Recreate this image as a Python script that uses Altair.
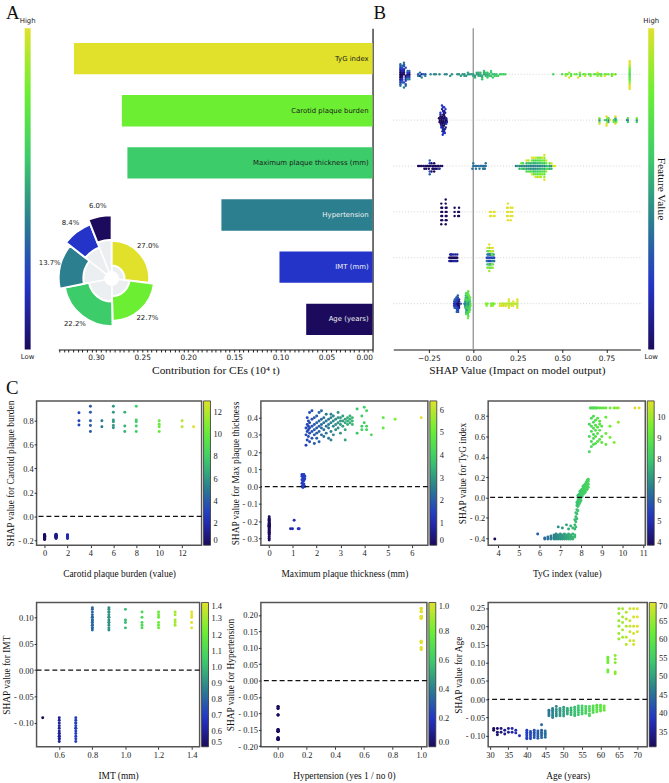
import altair as alt
import pandas as pd

# ---------------- feature summary (panel A) ----------------
features = ["TyG index", "Carotid plaque burden", "Maximum plaque thickness (mm)",
            "Hypertension", "IMT (mm)", "Age (years)"]
contribution = [0.324, 0.272, 0.266, 0.164, 0.101, 0.072]
share_pct = [27.0, 22.7, 22.2, 13.7, 8.4, 6.0]
shap_ticks = [-0.25, 0.0, 0.25, 0.50, 0.75]

# ---------------- per-sample SHAP values, keyed by feature value ----------------
tyg_shap = {
    3.84: [-0.41], 5.91: [-0.36],
    6.25: [-0.40, -0.41], 6.4: [-0.39, -0.41], 6.55: [-0.38, -0.40, -0.41],
    6.7: [-0.37, -0.39, -0.40, -0.41], 6.8: [-0.36, -0.38, -0.40, -0.41],
    6.9: [-0.29, -0.37, -0.39, -0.40, -0.41], 7.0: [-0.36, -0.38, -0.39, -0.40, -0.41],
    7.1: [-0.30, -0.37, -0.38, -0.40, -0.41], 7.2: [-0.36, -0.38, -0.39, -0.40, -0.41],
    7.3: [-0.27, -0.37, -0.39, -0.40, -0.41], 7.4: [-0.31, -0.36, -0.38, -0.39, -0.41],
    7.5: [-0.28, -0.37, -0.38, -0.40, -0.41], 7.6: [-0.30, -0.36, -0.39, -0.40, -0.41],
    7.7: [-0.22, -0.27, -0.31, -0.37, -0.39], 7.75: [-0.29, -0.24, -0.19, -0.15],
    7.8: [-0.21, -0.16, -0.12, -0.08, -0.05], 7.85: [-0.13, -0.09, -0.06, -0.03, 0.0, 0.02],
    7.9: [-0.07, -0.04, -0.02, 0.01, 0.03], 7.95: [-0.05, -0.01, 0.02, 0.04, 0.06],
    8.0: [-0.03, 0.0, 0.03, 0.05, 0.07], 8.05: [0.01, 0.04, 0.06, 0.08],
    8.1: [0.03, 0.05, 0.07, 0.09, 0.11], 8.15: [0.04, 0.06, 0.08, 0.10, 0.12],
    8.2: [0.05, 0.08, 0.10, 0.13], 8.25: [0.07, 0.09, 0.12, 0.15],
    8.3: [0.08, 0.11, 0.14, 0.17], 8.35: [0.10, 0.13, 0.16, 0.18],
    8.4: [0.45, 0.60, 0.72], 8.45: [0.88], 8.5: [0.50, 0.55, 0.65, 0.70, 0.78, 0.88],
    8.55: [0.88], 8.6: [0.52, 0.58, 0.62, 0.68, 0.74, 0.80, 0.88], 8.65: [0.88],
    8.7: [0.53, 0.60, 0.66, 0.71, 0.76, 0.88], 8.75: [0.88],
    8.8: [0.55, 0.63, 0.69, 0.78, 0.88], 8.9: [0.57, 0.66, 0.72, 0.75, 0.88],
    9.0: [0.54, 0.60, 0.70, 0.88], 9.1: [0.88], 9.2: [0.52, 0.63, 0.79, 0.88],
    9.4: [0.59, 0.70, 0.88], 9.6: [0.54, 0.88], 9.7: [0.88], 9.8: [0.74, 0.88],
    10.6: [0.88], 10.8: [0.88],
}
carotid_shap = {
    0: [-0.150, -0.155, -0.158, -0.160, -0.160, -0.162, -0.165, -0.165, -0.167, -0.170,
        -0.170, -0.172, -0.175, -0.175, -0.178, -0.180, -0.180, -0.183, -0.185, -0.188,
        -0.190, -0.193, -0.168, -0.172],
    1: [-0.148, -0.152, -0.155, -0.158, -0.160, -0.163, -0.165, -0.166, -0.170, -0.170,
        -0.173, -0.176, -0.180, -0.184],
    2: [-0.152, -0.156, -0.160, -0.164, -0.168, -0.170, -0.172, -0.176, -0.180, -0.185],
    3: [0.764, 0.80, 0.866], 4: [0.71, 0.76, 0.80, 0.87, 0.92], 5: [0.75, 0.80],
    6: [0.74, 0.76, 0.79, 0.805, 0.87, 0.92], 7: [0.71, 0.755, 0.87],
    8: [0.71, 0.755, 0.79, 0.805, 0.92], 10: [0.71, 0.75, 0.77, 0.80],
    12: [0.75, 0.80], 13: [0.75],
}
plaque_shap = {
    0.0: [-0.175, -0.185, -0.19, -0.195, -0.20, -0.205, -0.21, -0.215, -0.215, -0.22,
          -0.22, -0.225, -0.225, -0.23, -0.23, -0.235, -0.235, -0.24, -0.245, -0.25,
          -0.255, -0.26, -0.265, -0.27, -0.275, -0.28, -0.29, -0.30, -0.31],
    0.9: [-0.245], 0.98: [-0.245], 1.05: [-0.195], 1.22: [-0.245], 1.26: [-0.245],
    1.38: [0.0, 0.02, 0.04, 0.06, 0.07], 1.42: [-0.005, 0.01, 0.03, 0.05, 0.065],
    1.46: [0.015, 0.035, 0.055, 0.07], 1.5: [0.0, 0.045, 0.06],
    1.55: [0.24, 0.30, 0.34], 1.6: [0.27, 0.32, 0.36, 0.40], 1.65: [0.29, 0.33, 0.35, 0.38],
    1.7: [0.26, 0.31, 0.34, 0.37, 0.43], 1.8: [0.28, 0.32, 0.35, 0.39, 0.44],
    1.9: [0.25, 0.30, 0.33, 0.36, 0.40], 2.0: [0.28, 0.31, 0.34, 0.37, 0.41],
    2.1: [0.26, 0.32, 0.35, 0.38, 0.43], 2.2: [0.30, 0.34, 0.36, 0.39, 0.44],
    2.3: [0.29, 0.33, 0.37, 0.40], 2.4: [0.31, 0.35, 0.38, 0.42],
    2.5: [0.28, 0.34, 0.36, 0.39], 2.6: [0.27, 0.32, 0.37, 0.40, 0.42],
    2.7: [0.30, 0.35, 0.38, 0.41], 2.8: [0.33, 0.36, 0.39], 2.9: [0.34, 0.37, 0.40, 0.43],
    3.0: [0.31, 0.36, 0.38, 0.40], 3.1: [0.35, 0.38, 0.41], 3.2: [0.27, 0.33, 0.37, 0.39],
    3.3: [0.36, 0.38, 0.40], 3.4: [0.37, 0.39, 0.41], 3.5: [0.36, 0.38, 0.40],
    3.7: [0.31, 0.45], 3.9: [0.33, 0.35, 0.41], 4.0: [0.37, 0.46], 4.1: [0.33, 0.35, 0.44],
    4.3: [0.30], 4.8: [0.34, 0.40], 5.3: [0.39], 6.4: [0.40],
}
hypertension_shap = {
    0: [-0.08, -0.08, -0.08, -0.085, -0.085, -0.105, -0.105, -0.105,
        -0.15, -0.15, -0.15, -0.15, -0.155, -0.155, -0.155, -0.155, -0.155, -0.155, -0.155,
        -0.175, -0.175, -0.175, -0.175, -0.18, -0.18, -0.18, -0.18, -0.18, -0.18],
    1: [0.095, 0.095, 0.10, 0.10, 0.115, 0.115, 0.12, 0.12,
        0.19, 0.19, 0.19, 0.195, 0.195, 0.195, 0.195, 0.195,
        0.21, 0.21, 0.21, 0.21, 0.22, 0.22, 0.22],
}
imt_shap = {
    0.5: [-0.09],
    0.6: [-0.09, -0.095, -0.10, -0.105, -0.11, -0.115, -0.12, -0.12, -0.125, -0.125,
          -0.13, -0.13, -0.135],
    0.7: [-0.09, -0.095, -0.10, -0.10, -0.105, -0.11, -0.11, -0.115, -0.12, -0.125,
          -0.13, -0.135],
    0.8: [0.076, 0.08, 0.08, 0.085, 0.085, 0.09, 0.09, 0.095, 0.095, 0.10, 0.10, 0.105,
          0.11, 0.115, 0.118],
    0.9: [0.076, 0.08, 0.085, 0.09, 0.09, 0.095, 0.10, 0.10, 0.105, 0.11, 0.11, 0.115, 0.118],
    1.0: [0.08, 0.09, 0.095, 0.115], 1.1: [0.08, 0.085, 0.09, 0.10, 0.11],
    1.2: [0.08, 0.085, 0.09, 0.10, 0.105, 0.11], 1.3: [0.085, 0.09, 0.095, 0.105, 0.11],
    1.4: [0.08, 0.09, 0.10, 0.105, 0.11],
}
age_shap = {
    31: [-0.08, -0.085], 32: [-0.08, -0.09, -0.097], 33: [-0.08, -0.09],
    34: [-0.085, -0.095], 35: [-0.08, -0.09], 36: [-0.08, -0.09], 37: [-0.085, -0.092],
    38: [-0.10],
    40: [-0.085, -0.09, -0.095, -0.10, -0.105, -0.108],
    41: [-0.088, -0.093, -0.098, -0.103, -0.108], 42: [-0.085, -0.09, -0.095, -0.10, -0.105],
    43: [-0.087, -0.092, -0.097, -0.102, -0.107],
    44: [-0.07, -0.085, -0.09, -0.095, -0.10, -0.105], 45: [-0.087, -0.093, -0.098, -0.104],
    46: [-0.03, -0.035, -0.04, -0.045], 47: [-0.025, -0.03, -0.035, -0.04, -0.045, -0.05],
    48: [-0.02, -0.028, -0.034, -0.04, -0.046], 49: [-0.025, -0.03, -0.035, -0.04, -0.045],
    50: [-0.022, -0.028, -0.034, -0.04, -0.046], 51: [-0.025, -0.03, -0.035, -0.04],
    52: [-0.024, -0.03, -0.036, -0.042], 53: [-0.022, -0.028, -0.034, -0.04, -0.045],
    54: [-0.018, -0.024, -0.03, -0.036, -0.042], 55: [-0.018, -0.024, -0.03, -0.036, -0.04],
    56: [-0.02, -0.026, -0.032, -0.038], 57: [-0.02, -0.026, -0.032, -0.04, -0.045],
    58: [-0.018, -0.024, -0.03, -0.036], 59: [-0.016, -0.022, -0.028, -0.034],
    60: [-0.016, -0.022, -0.028, -0.032], 61: [-0.018, -0.024, -0.03],
    62: [0.075, 0.08, 0.10, 0.105, 0.11, 0.115], 64: [0.07, 0.075, 0.10, 0.11, 0.12],
    65: [0.165, 0.18, 0.20, 0.215, 0.235, 0.248], 66: [0.17, 0.19, 0.21, 0.225, 0.248],
    67: [0.15, 0.17, 0.20, 0.22, 0.238], 68: [0.16, 0.185, 0.20, 0.215, 0.248],
    69: [0.15, 0.16, 0.18, 0.20, 0.225, 0.248], 70: [0.185, 0.20, 0.225, 0.248],
}

# ---------------- styling ----------------
CMAP = ["#1c0b5c", "#2434c8", "#2b7f8f", "#3dcc6a", "#6cef33", "#e1e12b"]
SERIF = "Liberation Serif"
SANS = "DejaVu Sans"
GRADIENT = alt.Gradient(
    gradient="linear", x1=0, x2=0, y1=1, y2=0,
    stops=[alt.GradientStop(offset=i / (len(CMAP) - 1), color=c) for i, c in enumerate(CMAP)],
)
LETTER = dict(font=SERIF, fontSize=19, color="#111", align="left", baseline="alphabetic")
UNIT = alt.Scale(domain=[0, 1])


def cmap_scale(domain=None):
    if domain is None:
        return alt.Scale(range=CMAP, interpolate="rgb", zero=False, nice=False)
    return alt.Scale(domain=domain, range=CMAP, interpolate="rgb", zero=False, nice=False)


# ---------------- tables ----------------
summary = pd.DataFrame({"feature": features, "contribution": contribution, "pct": share_pct})
summary["rank"] = summary["contribution"].rank(ascending=False) - 1

by_feature = dict(zip(features, [tyg_shap, carotid_shap, plaque_shap,
                                  hypertension_shap, imt_shap, age_shap]))
records = []
for row_no, feat in enumerate(features, start=1):
    for val, shaps in by_feature[feat].items():
        for s in shaps:
            records.append({"feature": feat, "row": row_no, "value": val, "shap": s})
points = pd.DataFrame(records)
rows_df = pd.DataFrame({"feature": features, "row": list(range(1, len(features) + 1))})
one = pd.DataFrame({"k": [0]})

feat_color = alt.Color("feature:N", scale=alt.Scale(domain=features, range=CMAP[::-1]), legend=None)

# ---------------- panel A: contribution bars + share rose ----------------
minor_ticks = [round(i * 0.005, 3) for i in range(0, 69)]
a_scale = alt.Scale(domain=[0, 0.341], reverse=True, nice=False, zero=False)
a_axis = alt.Axis(
    values=minor_ticks, labelOverlap=False,
    labelExpr="abs(datum.value * 20 - round(datum.value * 20)) < 0.001 ? format(datum.value, '.2f') : ''",
    title="Contribution for CEs (10\u2074 t)", titleFont=SERIF, titleFontSize=11.5,
    titleFontWeight="normal", titleColor="#111", titlePadding=3,
    labelFont=SANS, labelFontSize=7.5, labelColor="#222", labelPadding=2,
    tickSize=2.5, tickColor="#222", domainColor="#111", grid=False,
)
a_y = alt.Y(
    "feature:N", sort=features,
    scale=alt.Scale(paddingInner=0.4, paddingOuter=0.28),
    axis=alt.Axis(orient="right", labels=False, ticks=False, title=None,
                  domainColor="#111", domainWidth=1.2),
)
a_base = alt.Chart(summary)
a_bars = a_base.mark_bar().encode(
    x=alt.X("contribution:Q", scale=a_scale, axis=a_axis), y=a_y, color=feat_color)
a_text = a_base.mark_text(align="right", dx=-4, font=SANS, fontSize=7).encode(
    x=alt.X(datum=0, scale=a_scale, axis=a_axis),
    y=a_y,
    text="feature:N",
    color=alt.condition("datum.contribution > 0.2", alt.value("#1a1a1a"), alt.value("#f2f2f2")),
)

# rose of each feature's share, stacked clockwise from 12 o'clock
rose = (
    a_base
    .transform_window(t1="sum(pct)", sort=[alt.SortField("rank")], frame=[None, 0])
    .transform_calculate(
        t0="datum.t1 - datum.pct", tm="datum.t1 - datum.pct / 2",
        r_hole="-1.2", r_in="datum.rank", r_out="datum.rank + 4.8", r_lab="datum.rank + 6.9",
        label="format(datum.pct, '.1f') + '%'",
    )
)
r_scale = alt.Scale(type="linear", domain=[0, 5], range=[13, 39], zero=False)
t_scale = alt.Scale(type="linear", domain=[0, 100], range=[0, 6.283185], zero=False)
center = dict(x=alt.value(54), y=alt.value(253))
rose_inner = rose.mark_arc(color="#eceff1", stroke="white", strokeWidth=1.5).encode(
    theta=alt.Theta("t0:Q", scale=t_scale), theta2=alt.Theta2("t1:Q"),
    radius=alt.Radius("r_hole:Q", scale=r_scale), radius2=alt.Radius2("r_in:Q"), **center)
rose_ring = rose.mark_arc(stroke="white", strokeWidth=2).encode(
    theta=alt.Theta("t0:Q", scale=t_scale), theta2=alt.Theta2("t1:Q"), color=feat_color,
    radius=alt.Radius("r_in:Q", scale=r_scale), radius2=alt.Radius2("r_out:Q"), **center)
rose_text = rose.mark_text(font=SANS, fontSize=7, color="#222").encode(
    theta=alt.Theta("tm:Q", scale=t_scale),
    radius=alt.Radius("r_lab:Q", scale=r_scale), text="label:N", **center)

panel_a = alt.layer(a_bars, a_text, rose_inner, rose_ring, rose_text).properties(width=318, height=325)


def colorbar(height, side_title=None, letter=None):
    base = alt.Chart(one)
    bar = base.mark_rect(fill=GRADIENT).encode(
        x=alt.X(datum=0, scale=UNIT, axis=None), x2=alt.X2(datum=1),
        y=alt.Y(datum=0, scale=UNIT, axis=None), y2=alt.Y2(datum=1))
    hi = base.mark_text(text="High", baseline="bottom", dy=-4, font=SANS, fontSize=7, color="#222").encode(
        x=alt.X(datum=0.5), y=alt.Y(datum=1))
    lo = base.mark_text(text="Low", baseline="top", dy=4, font=SANS, fontSize=7, color="#222").encode(
        x=alt.X(datum=0.5), y=alt.Y(datum=0))
    layers = [bar, hi, lo]
    if side_title:
        layers.append(base.mark_text(text=side_title, angle=90, baseline="middle", align="center",
                                     font=SERIF, fontSize=11.5, color="#111").encode(
            x=alt.X(datum=2.2), y=alt.Y(datum=0.5)))
    if letter:
        layers.append(base.mark_text(text=letter, dx=-19, dy=-9, **LETTER).encode(
            x=alt.X(datum=0), y=alt.Y(datum=1)))
    return alt.layer(*layers).properties(width=6, height=height)


# ---------------- panel B: SHAP beeswarm ----------------
b_domain = [-0.45, 0.94]
b_xscale = alt.Scale(domain=b_domain, nice=False, zero=False)
b_axis = alt.Axis(values=shap_ticks, format=".2f", title="SHAP Value (Impact on model output)",
                  titleFont=SERIF, titleFontSize=11.5, titleFontWeight="normal", titleColor="#111",
                  titlePadding=3, labelFont=SANS, labelFontSize=7.5, labelColor="#222",
                  labelPadding=2, tickSize=3, tickColor="#222", domainColor="#111", grid=False)
b_yscale = alt.Scale(domain=[0, 7], reverse=True, nice=False, zero=False)
b_rows = alt.Chart(rows_df).mark_rule(strokeDash=[1, 2], color="#c8c8c8", strokeWidth=0.8).encode(
    y=alt.Y("row:Q", scale=b_yscale, axis=None))
b_zero = alt.Chart(one).mark_rule(color="#9a9a9a", strokeWidth=1.4).encode(
    x=alt.X(datum=0, scale=b_xscale, axis=b_axis))
b_letter = alt.Chart(one).mark_text(text="B", dx=-20, dy=-9, **LETTER).encode(
    x=alt.X(datum=b_domain[0], scale=b_xscale, axis=b_axis), y=alt.Y(datum=0, scale=b_yscale, axis=None))
b_swarm = (
    alt.Chart(points)
    .transform_joinaggregate(smin="min(shap)", smax="max(shap)", groupby=["feature"])
    .transform_calculate(qbin="round(100 * (datum.shap - datum.smin) / (datum.smax - datum.smin))")
    .transform_window(rn="row_number()", groupby=["feature", "qbin"], sort=[alt.SortField("value")])
    .transform_calculate(off="ceil((datum.rn - 1) / 2) * (((datum.rn - 1) % 2) * 2 - 1)")
    .transform_joinaggregate(maxoff="max(off)", groupby=["feature"])
    .transform_window(cd="cume_dist()", pr="percent_rank()", groupby=["feature"],
                      sort=[alt.SortField("value")])
    .transform_calculate(lo="datum.cd >= 0.05 ? datum.value : null",
                         hi="datum.pr <= 0.95 ? datum.value : null")
    .transform_joinaggregate(vlo="min(lo)", vhi="max(hi)", groupby=["feature"])
    .transform_calculate(
        norm="datum.vhi > datum.vlo ? clamp((datum.value - datum.vlo) / (datum.vhi - datum.vlo), 0, 1) : 0.5",
        ypos="datum.row + datum.off * 0.36 / (datum.maxoff + 1)")
    .mark_circle(size=6, opacity=1)
    .encode(x=alt.X("shap:Q", scale=b_xscale, axis=b_axis),
            y=alt.Y("ypos:Q", scale=b_yscale, axis=None),
            color=alt.Color("norm:Q", scale=cmap_scale([0, 1]), legend=None))
)
panel_b = alt.layer(b_rows, b_zero, b_swarm, b_letter).properties(width=250, height=325)


# ---------------- panel C: dependence scatter plots ----------------
def signed(fmt):
    return (f"datum.value < 0 ? '- ' + format(-datum.value, '{fmt}') : "
            f"format(datum.value, '{fmt}')")


def dependence(feat, xtitle, ytitle, xdom, xticks, xfmt, ydom, yticks, yfmt, cticks, cfmt,
               width, height):
    base = alt.Chart(points).transform_filter(alt.datum.feature == feat)
    axis_style = dict(labelFont=SERIF, labelFontSize=8.5, labelColor="#222", titleFont=SERIF,
                      titleFontSize=9.5, titleFontWeight="normal", titleColor="#111",
                      tickSize=2.5, tickColor="#333", domain=False, grid=False, labelPadding=1,
                      labelOverlap=False)
    xscale = alt.Scale(domain=xdom, nice=False, zero=False)
    yscale = alt.Scale(domain=ydom, nice=False, zero=False)
    x_axis = alt.Axis(values=xticks, format=xfmt, title=xtitle, titlePadding=12, **axis_style)
    y_axis = alt.Axis(values=yticks, labelExpr=signed(yfmt), title=ytitle, titlePadding=2,
                      **axis_style)
    dots = base.mark_circle(size=9, opacity=1).encode(
        x=alt.X("value:Q", scale=xscale, axis=x_axis),
        y=alt.Y("shap:Q", scale=yscale, axis=y_axis),
        color=alt.Color("value:Q", scale=cmap_scale(),
                        legend=alt.Legend(title=None, orient="right", direction="vertical",
                                          gradientLength=height, gradientThickness=7, offset=2,
                                          values=cticks, format=cfmt, labelFont=SERIF,
                                          labelFontSize=8.5, labelColor="#222", labelOverlap=False,
                                          gradientStrokeColor="#333", gradientStrokeWidth=0.8,
                                          labelOffset=3)))
    zero = alt.Chart(one).mark_rule(strokeDash=[5, 3], color="#111", strokeWidth=1.3).encode(
        y=alt.Y(datum=0, scale=yscale, axis=y_axis))
    return alt.layer(dots, zero).properties(
        width=width, height=height, view=alt.ViewBackground(stroke="#555", strokeWidth=1.5))


p1 = dependence("Carotid plaque burden", "Carotid plaque burden (value)",
                "SHAP value for Carotid plaque burden", [-0.7, 13.7], [0, 2, 4, 6, 8, 10, 12], "d",
                [-0.24, 0.965], [-0.2, 0.0, 0.2, 0.4, 0.6, 0.8], ".1f",
                [0, 2, 4, 6, 8, 10, 12], "d", 167, 146)
p2 = dependence("Maximum plaque thickness (mm)", "Maximum plaque thickness (mm)",
                "SHAP value for Max plaque thickness", [-0.35, 6.68], [0, 1, 2, 3, 4, 5, 6], "d",
                [-0.34, 0.497], [-0.3, -0.2, -0.1, 0.0, 0.1, 0.2, 0.3, 0.4], ".1f",
                [0, 1, 2, 3, 4, 5, 6], "d", 169, 146)
p3 = dependence("TyG index", "TyG index (value)", "SHAP value for TyG index",
                [3.52, 11.1], [4, 5, 6, 7, 8, 9, 10, 11], "d",
                [-0.47, 0.95], [-0.4, -0.2, 0.0, 0.2, 0.4, 0.6, 0.8], ".1f",
                [4, 5, 6, 7, 8, 9, 10], "d", 159, 146)
p4 = dependence("IMT (mm)", "IMT (mm)", "SHAP value for IMT",
                [0.463, 1.448], [0.6, 0.8, 1.0, 1.2, 1.4], ".1f",
                [-0.145, 0.128], [-0.10, -0.05, 0.0, 0.05, 0.10], ".2f",
                [0.5, 0.6, 0.7, 0.8, 0.9, 1.0, 1.1, 1.2, 1.3, 1.4], ".1f", 165, 146)
p5 = dependence("Hypertension", "Hypertension (yes 1 / no 0)", "SHAP value for Hypertension",
                [-0.12, 1.04], [0.0, 0.2, 0.4, 0.6, 0.8, 1.0], ".1f",
                [-0.202, 0.238], [-0.20, -0.15, -0.10, -0.05, 0.0, 0.05, 0.10, 0.15, 0.20], ".2f",
                [0.0, 0.2, 0.4, 0.6, 0.8, 1.0], ".1f", 168, 146)
p6 = dependence("Age (years)", "Age (years)", "SHAP value for Age",
                [29.5, 72.7], [30, 35, 40, 45, 50, 55, 60, 65, 70], "d",
                [-0.13, 0.265], [-0.10, -0.05, 0.0, 0.05, 0.10, 0.15, 0.20, 0.25], ".2f",
                [35, 40, 45, 50, 55, 60, 65, 70], "d", 161, 146)


# ---------------- layout ----------------
def gap(width, height, letter=None, dy=0):
    """Empty cell that keeps a fixed horizontal gap, optionally carrying a panel letter."""
    if letter is None:
        return alt.Chart(one).mark_text(text="").properties(width=width, height=height)
    return alt.Chart(one).mark_text(text=letter, dy=dy, **LETTER).encode(
        x=alt.X(datum=0, scale=UNIT, axis=None), y=alt.Y(datum=1, scale=UNIT, axis=None)
    ).properties(width=width, height=height)


top_row = alt.hconcat(
    gap(19, 325), colorbar(325, letter="A"), gap(28, 325), panel_a, gap(21, 325),
    panel_b, gap(8, 325), colorbar(325, "Feature Value"),
    spacing=0, bounds="flush",
).resolve_scale(color="independent")

dependence_grid = alt.concat(
    gap(31, 146, "C", -7), p1, gap(60, 146), p2, gap(61, 146), p3,
    gap(31, 146), p4, gap(60, 146), p5, gap(61, 146), p6,
    columns=6, spacing={"row": 58, "column": 0}, bounds="flush",
).resolve_scale(color="independent")

chart = (
    alt.vconcat(top_row, dependence_grid, spacing=3).resolve_scale(color="independent")
    .properties(padding={"left": 0, "top": 0, "right": 0, "bottom": 0})
    .configure_view(stroke=None)
    .configure_axis(grid=False)
)

chart.save("out.html", embed_options={"renderer": "svg", "actions": False})
